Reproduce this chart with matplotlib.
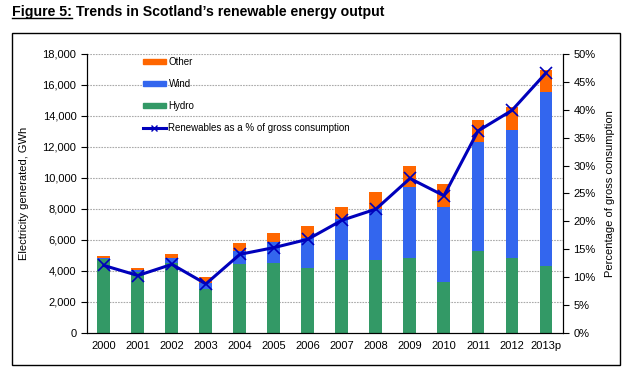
import matplotlib
matplotlib.use("Agg")
import matplotlib.pyplot as plt
from matplotlib.lines import Line2D
from matplotlib.patches import Rectangle
from matplotlib.ticker import FuncFormatter, MultipleLocator
import numpy as np

plt.rcParams["font.family"] = ["Liberation Sans", "DejaVu Sans"]

years = ["2000", "2001", "2002", "2003", "2004", "2005", "2006",
         "2007", "2008", "2009", "2010", "2011", "2012", "2013p"]
hydro = [4750, 3950, 4500, 2860, 4420, 4540, 4220, 4680, 4680, 4860, 3300, 5310, 4860, 4340]
wind = [120, 110, 360, 390, 840, 1300, 1880, 2650, 3290, 4530, 4800, 6990, 8220, 11200]
other = [120, 150, 260, 390, 520, 590, 780, 790, 1120, 1360, 1490, 1430, 1490, 1430]
pct_gross = [12.1, 10.3, 12.3, 8.8, 14.1, 15.3, 16.8, 20.2, 22.2, 27.7, 24.6, 36.2, 39.9, 46.6]

GREEN = "#339966"
BLUE = "#3366ee"
ORANGE = "#ff6600"
LINE = "#0000bb"

fig = plt.figure(figsize=(6.34, 3.69), dpi=100)
ax = fig.add_axes([0.137, 0.0976, 0.751, 0.7561])
ax2 = ax.twinx()

# outer chart frame
fig.patches.append(Rectangle((0.019, 0.011), 0.959, 0.90, transform=fig.transFigure,
                             fill=False, ec="black", lw=1.0))

x = np.arange(len(years))
w = 0.38
h = np.array(hydro)
wd = np.array(wind)
ax.bar(x, h, w, color=GREEN, label="Hydro", zorder=2)
ax.bar(x, wd, w, bottom=h, color=BLUE, label="Wind", zorder=2)
ax.bar(x, other, w, bottom=h + wd, color=ORANGE, label="Other", zorder=2)

ax.set_xlim(-0.5, len(years) - 0.5)
ax.set_ylim(0, 18000)
ax.yaxis.set_major_locator(MultipleLocator(2000))
ax.yaxis.set_major_formatter(FuncFormatter(lambda v, _: f"{v:,.0f}"))
ax.set_xticks(x)
ax.set_xticklabels(years)
ax.tick_params(axis="x", length=0, labelsize=8, pad=6)
ax.tick_params(axis="y", length=4, labelsize=8, direction="out")
for yv in range(2000, 18001, 2000):
    ax.axhline(yv, color="#aaaaaa", lw=0.8, ls=(0, (1.5, 1)), zorder=1)
ax.spines["top"].set_visible(False)
ax.set_ylabel("Electricity generated, GWh", fontsize=8, labelpad=10)

ax2.plot(x, pct_gross, color=LINE, lw=2.2, marker="x", ms=8, mew=1.2,
         label="Renewables as a % of gross consumption", zorder=3)
ax2.set_ylim(0, 50)
ax2.yaxis.set_major_locator(MultipleLocator(5))
ax2.yaxis.set_major_formatter(FuncFormatter(lambda v, _: f"{v:.0f}%"))
ax2.tick_params(axis="y", length=4, labelsize=8, direction="out")
ax2.spines["top"].set_visible(False)
ax2.set_ylabel("Percentage of gross consumption", fontsize=8, labelpad=7)

handles = [
    Rectangle((0, 0), 1, 1, color=ORANGE),
    Rectangle((0, 0), 1, 1, color=BLUE),
    Rectangle((0, 0), 1, 1, color=GREEN),
    Line2D([], [], color=LINE, lw=2.2, marker="x", ms=5),
]
labels = ["Other", "Wind", "Hydro", "Renewables as a % of gross consumption"]
leg = ax2.legend(handles, labels, loc="upper left", bbox_to_anchor=(0.1, 1.02),
                 frameon=False, fontsize=7, labelspacing=1.22, handlelength=2.3,
                 handleheight=0.45, handletextpad=0.3)

# title with underlined "Figure 5:"
t1 = fig.text(0.019, 0.957, "Figure 5:", fontsize=10.2, fontweight="bold",
              va="baseline", ha="left")
fig.canvas.draw()
bb = t1.get_window_extent().transformed(fig.transFigure.inverted())
fig.add_artist(Line2D([bb.x0, bb.x1], [0.950, 0.950], color="black", lw=1.0,
                      transform=fig.transFigure))
fig.text(bb.x1 + 0.006, 0.957, "Trends in Scotland\u2019s renewable energy output",
         fontsize=10.2, fontweight="bold", va="baseline", ha="left")

fig.savefig("out.png", dpi=100)
